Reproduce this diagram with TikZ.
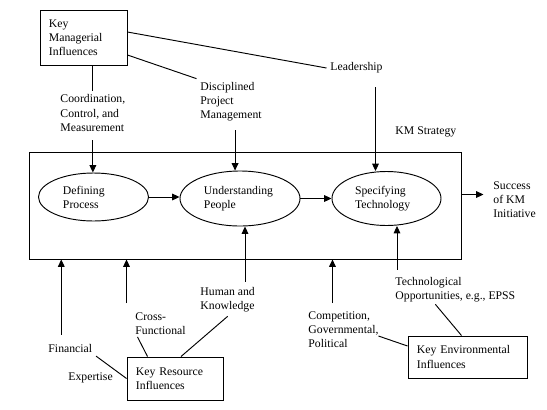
\documentclass[tikz,border=0pt]{standalone}
\usepackage{fontspec}
\setmainfont{Liberation Serif}
\usetikzlibrary{arrows.meta,calc,shapes.geometric}

\begin{document}
\begin{tikzpicture}[x=0.03cm,y=-0.03cm,line width=0.8pt,>={Triangle[length=2.2mm,width=2mm]},
		every node/.style={font=\fontsize{10}{12}\selectfont},
		inflbox/.style={draw,align=left,inner xsep=0.27cm},
		stage/.style={draw,ellipse,align=left,inner sep=1pt},
		lbl/.style={align=left,inner sep=3pt,anchor=west}]
		\useasboundingbox (0,0) rectangle (547,409);
		\node[draw,inner sep=0,minimum width=12.96cm,minimum height=3.21cm] (km) at (245,205.5) {};
		\node[lbl] (kms) at (391.5,132) {KM Strategy};
%
		\node[stage,text width=1.83cm,minimum width=3.3cm,minimum height=1.44cm] (def) at (93.5,197) {Defining\\Process};
		\node[stage,text width=2.16cm,minimum width=3.6cm,minimum height=1.65cm] (und) at (240,198.5) {Understanding\\People};
		\node[stage,text width=1.89cm,minimum width=3.27cm,minimum height=1.62cm] (spec) at (386.5,198.5) {Specifying\\Technology};
		\node[lbl] (success) at (489.5,200) {Success\\of KM\\Initiative};
%
		\node[inflbox,text width=2.07cm,minimum height=1.65cm] (kmi) at (83.5,37.5) {Key\\Managerial\\Influences};
		\node[lbl] (coord) at (56.5,113) {Coordination,\\Control, and\\Measurement};
		\node[lbl] (discip) at (196.5,102) {Disciplined\\Project\\Management};
		\node[lbl] (lead) at (326.5,68) {Leadership};
%
		\node[inflbox,text width=2.34cm,minimum height=1.29cm] (res) at (175,378.5) {Key Resource\\Influences};
		\node[lbl] (financial) at (44.5,348) {Financial};
		\node[lbl] (expertise) at (64.5,378) {Expertise};
		\node[lbl] (cross) at (131.5,324) {Cross-\\Functional};
		\node[lbl] (human) at (196.5,300) {Human and\\Knowledge};
%
		\node[inflbox,text width=3.03cm,minimum height=1.26cm] (env) at (467.5,357) {Key Environmental\\Influences};
		\node[lbl] (compet) at (304.5,330) {Competition,\\Governmental,\\Political};
		\node[lbl] (techop) at (391.5,290) {Technological\\Opportunities, e.g., EPSS};
%
		\draw ($(kmi.east)+(0,-5.5)$) -- (lead.west);
		\draw ($(kmi.east)+(0,17.5)$) -- (discip.north west);
		\draw (kmi.south -| coord.north) -- (coord.north);
		\draw[->] ($(coord.south)+(0,5)$) -- (coord.south |- def.north);
		\draw[->] ($(discip.south)+(4,5)$) -- ($(discip.south |- und.north)+(4,0)$);
		\draw[->] ($(lead.south -| spec.north)+(-11,10)$) -- ($(spec.north)+(-11,0)$);
		\draw[->] (def.east) -- (def.east -| und.west);
		\draw[->] (und.east) -- (und.east -| spec.west);
		\draw[->] ($(spec.east -| km.east)+(0,-4)$) -- ($(spec.east -| success.west)+(-6,-4)$);
%
		\draw[->] ($(human.north -| und.south)+(5,-2)$) -- ($(und.south)+(5,0)$);
		\draw[->] ($(financial.north)+(-9,-5)$) -- ($(financial.north |- km.south)+(-9,0)$);
		\draw[->] ($(cross.north west)+(-5,-6)$) -- ($(cross.north west |- km.south)+(-5,0)$);
		\draw[->] ($(compet.north)+(-11,-5)$) -- ($(compet.north |- km.south)+(-11,0)$);
		\draw[->] ($(techop.north west)+(5.5,-4)$) -- ($(techop.north west |- spec.south)+(5.5,0)$);
%
		\draw (financial.south east) -- (res.west);
		\draw ($(cross.south west)+(6,-2)$) -- ($(res.north west)+(21,0)$);
		\draw (human.south) -- ($(res.north)+(6,0)$);
		\draw ($(compet.east)+(-4,6)$) -- ($(env.west)+(0,-11)$);
		\draw ($(techop.south)+(-20,-2)$) -- ($(env.north)+(-6,0)$);
	\end{tikzpicture}
\end{document}
